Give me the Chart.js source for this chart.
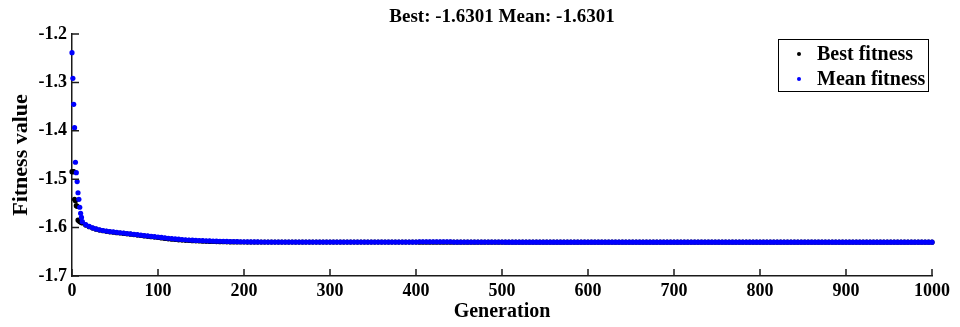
<!DOCTYPE html>
<html>
<head>
<meta charset="utf-8">
<script src="https://cdn.jsdelivr.net/npm/chart.js@4.4.0/dist/chart.umd.min.js"></script>
<style>
  html, body { margin: 0; padding: 0; background: #fff; }
</style>
</head>
<body>
<canvas id="gaChart" width="960" height="327"></canvas>
<script>
const generations = [
  0, 1, 2, 3, 4, 5, 6, 7, 8, 9, 10, 11, 12,
  16, 20, 24, 28, 32, 36, 40, 44, 48, 52, 56, 60, 64, 68, 72, 76, 80, 84, 88, 92, 96, 100,
  104, 108, 112, 116, 120, 124, 128, 132, 136, 140, 144, 148, 152, 156, 160, 164, 168, 172, 176, 180, 184, 188, 192, 196, 200,
  204, 208, 212, 216, 220, 224, 228, 232, 236, 240, 244, 248, 252, 256, 260, 264, 268, 272, 276, 280, 284, 288, 292, 296, 300,
  304, 308, 312, 316, 320, 324, 328, 332, 336, 340, 344, 348, 352, 356, 360, 364, 368, 372, 376, 380, 384, 388, 392, 396, 400,
  404, 408, 412, 416, 420, 424, 428, 432, 436, 440, 444, 448, 452, 456, 460, 464, 468, 472, 476, 480, 484, 488, 492, 496, 500,
  504, 508, 512, 516, 520, 524, 528, 532, 536, 540, 544, 548, 552, 556, 560, 564, 568, 572, 576, 580, 584, 588, 592, 596, 600,
  604, 608, 612, 616, 620, 624, 628, 632, 636, 640, 644, 648, 652, 656, 660, 664, 668, 672, 676, 680, 684, 688, 692, 696, 700,
  704, 708, 712, 716, 720, 724, 728, 732, 736, 740, 744, 748, 752, 756, 760, 764, 768, 772, 776, 780, 784, 788, 792, 796, 800,
  804, 808, 812, 816, 820, 824, 828, 832, 836, 840, 844, 848, 852, 856, 860, 864, 868, 872, 876, 880, 884, 888, 892, 896, 900,
  904, 908, 912, 916, 920, 924, 928, 932, 936, 940, 944, 948, 952, 956, 960, 964, 968, 972, 976, 980, 984, 988, 992, 996, 1000
];

const bestFitness = [
  -1.4845, -1.4845, -1.4845, -1.5415, -1.5444, -1.5548, -1.5560, -1.5843, -1.5860, -1.5872, -1.5884, -1.5895, -1.5905,
  -1.5948, -1.5982, -1.6010, -1.6033, -1.6051, -1.6065, -1.6077, -1.6087, -1.6096, -1.6104, -1.6112, -1.6120, -1.6128, -1.6136, -1.6145, -1.6154, -1.6163, -1.6172, -1.6180, -1.6188, -1.6196, -1.6205,
  -1.6214, -1.6223, -1.6231, -1.6239, -1.6246, -1.6252, -1.6257, -1.6262, -1.6266, -1.6270, -1.6274, -1.6277, -1.6280, -1.6283, -1.6285, -1.6287, -1.6289, -1.6291, -1.6292, -1.6294, -1.6295, -1.6296, -1.6297, -1.6298, -1.6298,
  -1.6299, -1.6299, -1.6300, -1.6300, -1.6300, -1.6300, -1.6300, -1.6300, -1.6300, -1.6300, -1.6300, -1.6300, -1.6300, -1.6300, -1.6300, -1.6300, -1.6300, -1.6300, -1.6300, -1.6300, -1.6300, -1.6300, -1.6300, -1.6300, -1.6300,
  -1.6300, -1.6300, -1.6300, -1.6300, -1.6300, -1.6300, -1.6300, -1.6300, -1.6300, -1.6300, -1.6300, -1.6300, -1.6300, -1.6300, -1.6300, -1.6300, -1.6300, -1.6300, -1.6300, -1.6300, -1.6300, -1.6300, -1.6300, -1.6300, -1.6300,
  -1.6301, -1.6301, -1.6301, -1.6301, -1.6301, -1.6301, -1.6301, -1.6301, -1.6301, -1.6301, -1.6301, -1.6301, -1.6301, -1.6301, -1.6301, -1.6301, -1.6301, -1.6301, -1.6301, -1.6301, -1.6301, -1.6301, -1.6301, -1.6301, -1.6301,
  -1.6301, -1.6301, -1.6301, -1.6301, -1.6301, -1.6301, -1.6301, -1.6301, -1.6301, -1.6301, -1.6301, -1.6301, -1.6301, -1.6301, -1.6301, -1.6301, -1.6301, -1.6301, -1.6301, -1.6301, -1.6301, -1.6301, -1.6301, -1.6301, -1.6301,
  -1.6301, -1.6301, -1.6301, -1.6301, -1.6301, -1.6301, -1.6301, -1.6301, -1.6301, -1.6301, -1.6301, -1.6301, -1.6301, -1.6301, -1.6301, -1.6301, -1.6301, -1.6301, -1.6301, -1.6301, -1.6301, -1.6301, -1.6301, -1.6301, -1.6301,
  -1.6301, -1.6301, -1.6301, -1.6301, -1.6301, -1.6301, -1.6301, -1.6301, -1.6301, -1.6301, -1.6301, -1.6301, -1.6301, -1.6301, -1.6301, -1.6301, -1.6301, -1.6301, -1.6301, -1.6301, -1.6301, -1.6301, -1.6301, -1.6301, -1.6301,
  -1.6301, -1.6301, -1.6301, -1.6301, -1.6301, -1.6301, -1.6301, -1.6301, -1.6301, -1.6301, -1.6301, -1.6301, -1.6301, -1.6301, -1.6301, -1.6301, -1.6301, -1.6301, -1.6301, -1.6301, -1.6301, -1.6301, -1.6301, -1.6301, -1.6301,
  -1.6301, -1.6301, -1.6301, -1.6301, -1.6301, -1.6301, -1.6301, -1.6301, -1.6301, -1.6301, -1.6301, -1.6301, -1.6301, -1.6301, -1.6301, -1.6301, -1.6301, -1.6301, -1.6301, -1.6301, -1.6301, -1.6301, -1.6301, -1.6301, -1.6301
];

const meanFitness = [
  -1.2386, -1.2915, -1.3452, -1.3936, -1.4650, -1.4866, -1.5050, -1.5280, -1.5415, -1.5580, -1.5705, -1.5790, -1.5878,
  -1.5940, -1.5975, -1.6005, -1.6028, -1.6046, -1.6060, -1.6072, -1.6082, -1.6090, -1.6098, -1.6106, -1.6114, -1.6122, -1.6130, -1.6138, -1.6147, -1.6156, -1.6164, -1.6172, -1.6180, -1.6188, -1.6196,
  -1.6204, -1.6212, -1.6220, -1.6227, -1.6234, -1.6240, -1.6246, -1.6251, -1.6256, -1.6260, -1.6264, -1.6267, -1.6270, -1.6273, -1.6276, -1.6278, -1.6280, -1.6282, -1.6284, -1.6286, -1.6288, -1.6289, -1.6291, -1.6292, -1.6293,
  -1.6294, -1.6295, -1.6296, -1.6297, -1.6298, -1.6298, -1.6299, -1.6299, -1.6299, -1.6299, -1.6299, -1.6299, -1.6299, -1.6299, -1.6299, -1.6299, -1.6299, -1.6299, -1.6299, -1.6299, -1.6299, -1.6299, -1.6299, -1.6299, -1.6299,
  -1.6299, -1.6299, -1.6299, -1.6299, -1.6299, -1.6299, -1.6299, -1.6299, -1.6299, -1.6299, -1.6299, -1.6299, -1.6299, -1.6299, -1.6299, -1.6299, -1.6299, -1.6299, -1.6299, -1.6299, -1.6299, -1.6299, -1.6299, -1.6299, -1.6299,
  -1.6293, -1.6293, -1.6293, -1.6293, -1.6293, -1.6293, -1.6293, -1.6293, -1.6293, -1.6293, -1.6300, -1.6300, -1.6300, -1.6300, -1.6300, -1.6300, -1.6300, -1.6300, -1.6300, -1.6300, -1.6300, -1.6300, -1.6300, -1.6300, -1.6300,
  -1.6301, -1.6301, -1.6301, -1.6301, -1.6301, -1.6301, -1.6301, -1.6301, -1.6301, -1.6301, -1.6301, -1.6301, -1.6301, -1.6301, -1.6301, -1.6301, -1.6301, -1.6301, -1.6301, -1.6301, -1.6301, -1.6301, -1.6301, -1.6301, -1.6301,
  -1.6301, -1.6301, -1.6301, -1.6301, -1.6301, -1.6301, -1.6301, -1.6301, -1.6301, -1.6301, -1.6301, -1.6301, -1.6301, -1.6301, -1.6301, -1.6301, -1.6301, -1.6301, -1.6301, -1.6301, -1.6301, -1.6301, -1.6301, -1.6301, -1.6301,
  -1.6301, -1.6301, -1.6301, -1.6301, -1.6301, -1.6301, -1.6301, -1.6301, -1.6301, -1.6301, -1.6301, -1.6301, -1.6301, -1.6301, -1.6301, -1.6301, -1.6301, -1.6301, -1.6301, -1.6301, -1.6301, -1.6301, -1.6301, -1.6301, -1.6301,
  -1.6301, -1.6301, -1.6301, -1.6301, -1.6301, -1.6301, -1.6301, -1.6301, -1.6301, -1.6301, -1.6301, -1.6301, -1.6301, -1.6301, -1.6301, -1.6301, -1.6301, -1.6301, -1.6301, -1.6301, -1.6301, -1.6301, -1.6301, -1.6301, -1.6301,
  -1.6301, -1.6301, -1.6301, -1.6301, -1.6301, -1.6301, -1.6301, -1.6301, -1.6301, -1.6301, -1.6301, -1.6301, -1.6301, -1.6301, -1.6301, -1.6301, -1.6301, -1.6301, -1.6301, -1.6301, -1.6301, -1.6301, -1.6301, -1.6301, -1.6301
];

const xTicks = [0, 100, 200, 300, 400, 500, 600, 700, 800, 900, 1000];
const yTicks = [-1.7, -1.6, -1.5, -1.4, -1.3, -1.2];

const serif = "'Liberation Serif', 'Times New Roman', serif";

const bestPoints = generations.map((g, i) => ({ x: g, y: bestFitness[i] }));
const meanPoints = generations.map((g, i) => ({ x: g, y: meanFitness[i] }));

// Titel, Legende und Ticks nach innen (wie im MATLAB Plot)
const gaExtras = {
  id: 'gaExtras',
  afterDatasetsDraw(chart) {
    const { ctx, chartArea, scales } = chart;
    ctx.save();

    // Ticks nach innen
    ctx.strokeStyle = '#1a1a1a';
    ctx.lineWidth = 1.5;
    ctx.beginPath();
    xTicks.forEach(v => {
      const px = scales.x.getPixelForValue(v);
      ctx.moveTo(px, chartArea.bottom);
      ctx.lineTo(px, chartArea.bottom - 7);
    });
    yTicks.forEach(v => {
      const py = scales.y.getPixelForValue(v);
      ctx.moveTo(chartArea.left, py);
      ctx.lineTo(chartArea.left + 7, py);
    });
    ctx.stroke();

    // Titel
    const title = 'Best: ' + bestFitness[bestFitness.length - 1].toFixed(4) +
      ' Mean: ' + meanFitness[meanFitness.length - 1].toFixed(4);
    ctx.fillStyle = '#000';
    ctx.font = 'bold 19px ' + serif;
    ctx.textAlign = 'center';
    ctx.textBaseline = 'middle';
    ctx.fillText(title, (chartArea.left + chartArea.right) / 2, 17);

    // Legende
    const boxW = 150, boxH = 52;
    const bx = chartArea.right - 4 - boxW;
    const by = chartArea.top + 5;
    ctx.fillStyle = '#fff';
    ctx.fillRect(bx, by, boxW, boxH);
    ctx.strokeStyle = '#000';
    ctx.lineWidth = 1;
    ctx.strokeRect(bx + 0.5, by + 0.5, boxW, boxH);

    const entries = [['Best fitness', '#000000'], ['Mean fitness', '#0000ff']];
    ctx.font = 'bold 20px ' + serif;
    ctx.textAlign = 'left';
    entries.forEach((e, i) => {
      const cy = by + 15 + i * 25;
      ctx.fillStyle = e[1];
      ctx.beginPath();
      ctx.arc(bx + 21, cy, 2, 0, Math.PI * 2);
      ctx.fill();
      ctx.fillStyle = '#000';
      ctx.fillText(e[0], bx + 39, cy + 1);
    });

    ctx.restore();
  }
};

const myGaChart = document.querySelector('#gaChart');

const config = {
  type: 'scatter',
  data: {
    datasets: [
      {
        label: 'Mean fitness',
        data: meanPoints,
        showLine: false,
        pointRadius: 2.6,
        pointBorderWidth: 0,
        pointBackgroundColor: '#0000ff',
        pointBorderColor: '#0000ff',
        clip: false,
        order: 0
      },
      {
        label: 'Best fitness',
        data: bestPoints,
        showLine: false,
        pointRadius: 2.6,
        pointBorderWidth: 0,
        pointBackgroundColor: '#000000',
        pointBorderColor: '#000000',
        clip: false,
        order: 1
      }
    ]
  },
  options: {
    responsive: false,
    animation: false,
    events: [],
    layout: { padding: { top: 34, right: 28, bottom: 0, left: 0 } },
    plugins: {
      legend: { display: false },
      tooltip: { enabled: false },
      title: { display: false }
    },
    scales: {
      x: {
        type: 'linear',
        min: 0,
        max: 1000,
        afterFit: s => { s.height = 51; },
        afterBuildTicks: s => { s.ticks = xTicks.map(v => ({ value: v })); },
        ticks: {
          color: '#000',
          padding: 5,
          maxRotation: 0,
          font: { family: serif, size: 18, weight: 'bold' },
          callback: v => String(v)
        },
        grid: { drawOnChartArea: false, drawTicks: false },
        border: { display: true, color: '#1a1a1a', width: 1.5 },
        title: {
          display: true,
          text: 'Generation',
          color: '#000',
          font: { family: serif, size: 20, weight: 'bold' },
          padding: { top: 0, bottom: 3 }
        }
      },
      y: {
        min: -1.7,
        max: -1.2,
        afterFit: s => { s.width = 72; },
        afterBuildTicks: s => { s.ticks = yTicks.map(v => ({ value: v })); },
        ticks: {
          color: '#000',
          padding: 5,
          font: { family: serif, size: 18, weight: 'bold' },
          callback: v => v.toFixed(1)
        },
        grid: { drawOnChartArea: false, drawTicks: false },
        border: { display: true, color: '#1a1a1a', width: 1.5 },
        title: {
          display: true,
          text: 'Fitness value',
          color: '#000',
          font: { family: serif, size: 22, weight: 'bold' },
          padding: { top: 8, bottom: 0 }
        }
      }
    }
  },
  plugins: [gaExtras]
};

const chart = new Chart(myGaChart, config);
</script>
</body>
</html>
